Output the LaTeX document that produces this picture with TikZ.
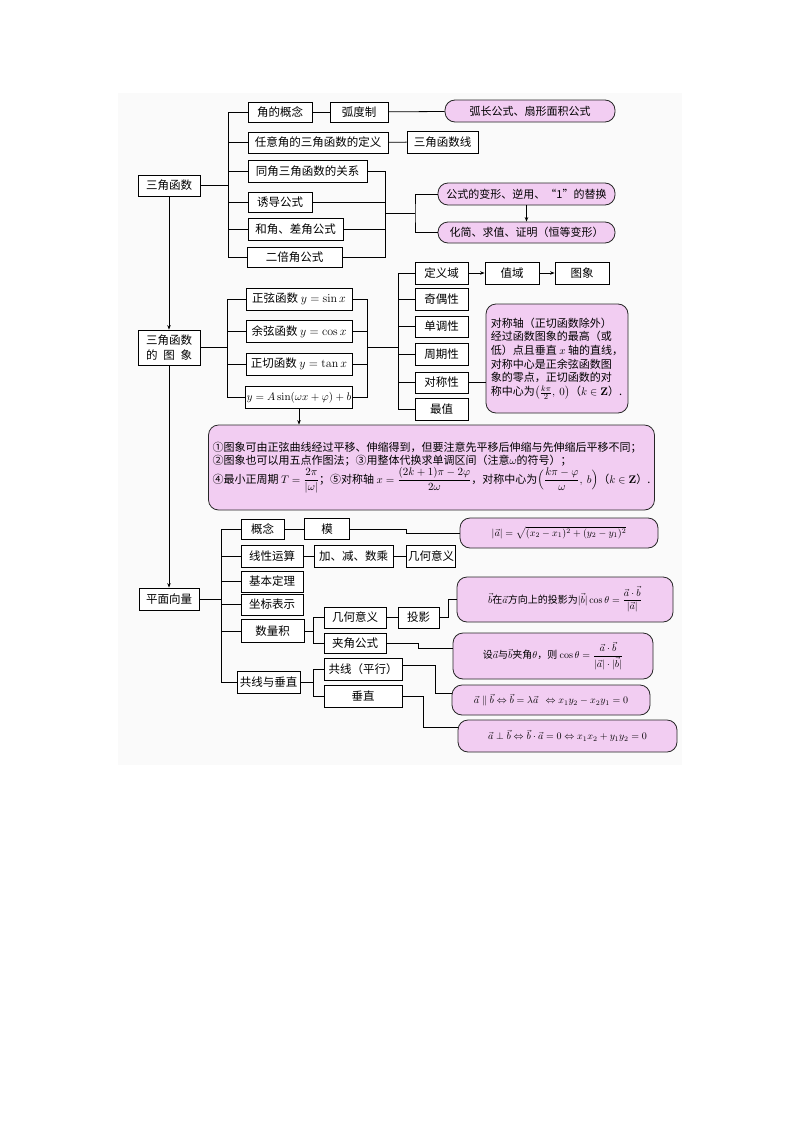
\documentclass[tikz,border=0pt]{standalone}
\usepackage{amsmath,amssymb}
\usepackage[no-math]{fontspec}
\setmainfont{Noto Sans CJK SC}
\usetikzlibrary{arrows.meta,calc}
\definecolor{pinkc}{HTML}{F2CDF2}
\begin{document}
\begin{tikzpicture}[x=1pt,y=-1pt,
  line width=0.8pt,
  >={Stealth[length=4.5pt,width=3.5pt]},
  sz/.style 2 args={minimum width=#1pt, minimum height=#2pt},
  box/.style={draw, fill=white, inner sep=1pt, font=\fontsize{11.5}{14}\selectfont},
  pbox/.style={draw=black!85, fill=pinkc, rounded corners=10pt, inner sep=2pt, font=\fontsize{11}{13.7}\selectfont},
  vbox/.style={pbox, font=\fontsize{10}{12.5}\selectfont}]
\useasboundingbox (0,0) rectangle (800,1132);
\fill[gray!4] (118,93) rectangle (682,765);

% ---------- section 1 ----------
\node[box,sz={62}{21}] (sjhs) at (169,185.5) {三角函数};
\node[box,sz={64}{20}] (jgn) at (280,112) {角的概念};
\node[box,sz={58}{20}] (hdz) at (359,112) {弧度制};
\node[pbox,sz={170}{22}] (hc) at (530,111) {弧长公式、扇形面积公式};
\node[box,sz={140}{21}] (ryj) at (318,142.5) {任意角的三角函数的定义};
\node[box,sz={71}{22}] (sjx) at (442.5,142) {三角函数线};
\node[box,sz={119}{22}] (tj) at (307.5,171) {同角三角函数的关系};
\node[box,sz={64}{20}] (yd) at (280,202) {诱导公式};
\node[box,sz={95}{22}] (hj) at (295.5,229) {和角、差角公式};
\node[box,sz={95}{20}] (ebj) at (294.5,257) {二倍角公式};
\node[pbox,sz={177}{22}] (bxt) at (526.5,194) {公式的变形、逆用、“1”的替换};
\node[pbox,sz={177}{21}] (hjq) at (526.5,232.5) {化简、求值、证明（恒等变形）};

\coordinate (bx1) at (228,185.5);
\draw (sjhs.east) -- (bx1);
\draw (bx1 |- jgn.west) -- (bx1 |- ebj.west);
\foreach \n in {jgn,ryj,tj,yd,hj,ebj} \draw (bx1 |- \n.west) -- (\n.west);
\draw (jgn) -- (hdz);
\draw (hdz) -- (hc);
\draw (ryj) -- (sjx);
\coordinate (bx2) at (385,213);
\coordinate (bx3) at (415,213);
\draw (tj.east) -- (bx2 |- tj.east) -- (bx2 |- ebj.east) -- (ebj.east);
\draw (yd.east) -- (bx2 |- yd.east);
\draw (hj.east) -- (bx2 |- hj.east);
\draw (bx2) -- (bx3);
\draw (bxt.west) -| (bx3) |- (hjq.west);
\draw[->] (bxt.south) -- (hjq.north);

% ---------- section 2 ----------
\node[box,sz={62}{35},align=center,font=\fontsize{11.5}{15}\selectfont] (tx) at (169,347.5) {三角函数\\的\hspace{0.5em}图\hspace{0.5em}象};
\node[box,sz={106}{22}] (sin) at (299,299) {正弦函数 $y=\sin x$};
\node[box,sz={106}{22}] (cos) at (299,331.5) {余弦函数 $y=\cos x$};
\node[box,sz={106}{22}] (tan) at (299,364) {正切函数 $y=\tan x$};
\node[box,sz={106}{22},font=\fontsize{10.5}{12}\selectfont] (asn) at (299,397.5) {$y=A\sin(\omega x+\varphi)+b$};
\node[box,sz={53}{22}] (dyy) at (441.5,273) {定义域};
\node[box,sz={54}{22}] (zy) at (512,273) {值域};
\node[box,sz={54}{22}] (txg) at (582,273) {图象};
\node[box,sz={53}{22}] (jo) at (441.5,299) {奇偶性};
\node[box,sz={53}{21}] (dd) at (441.5,326.5) {单调性};
\node[box,sz={53}{22}] (zq) at (441.5,354) {周期性};
\node[box,sz={53}{21}] (dc) at (441.5,382.5) {对称性};
\node[box,sz={53}{22}] (zz) at (441.5,409) {最值};
\node[pbox,sz={142}{109},align=left] (sym) at (557,358.5) {对称轴（正切函数除外）\\经过函数图象的最高（或\\低）点且垂直 $x$ 轴的直线，\\对称中心是正余弦函数图\\象的零点，正切函数的对\\称中心为$\bigl(\frac{k\pi}{2},\ 0\bigr)$（$k\in\mathbf{Z}$）.};
\node[pbox,sz={441}{85},align=left,inner sep=4pt] (big) at (431.5,467.5) {①图象可由正弦曲线经过平移、伸缩得到，但要注意先平移后伸缩与先伸缩后平移不同；\\②图象也可以用五点作图法；③用整体代换求单调区间（注意$\omega$的符号）；\\④最小正周期 $T=\dfrac{2\pi}{|\omega|}$；⑤对称轴 $x=\dfrac{(2k+1)\pi-2\varphi}{2\omega}$，对称中心为$\Bigl(\dfrac{k\pi-\varphi}{\omega},\ b\Bigr)$（$k\in\mathbf{Z}$）.};

\draw[->] (sjhs.south) -- (tx.north);
\coordinate (bx4) at (227,347.5);
\draw (tx.east) -- (bx4);
\draw (bx4 |- sin.west) -- (bx4 |- asn.west);
\foreach \n in {sin,cos,tan,asn} \draw (bx4 |- \n.west) -- (\n.west);
\coordinate (bx5) at (367,347.5);
\coordinate (bx6) at (398,347.5);
\draw (sin.east) -- (bx5 |- sin.east) -- (bx5 |- asn.east) -- (asn.east);
\draw (cos.east) -- (bx5 |- cos.east);
\draw (tan.east) -- (bx5 |- tan.east);
\draw (bx5) -- (bx6);
\draw (bx6 |- dyy.west) -- (bx6 |- zz.west);
\foreach \n in {dyy,jo,dd,zq,dc,zz} \draw (bx6 |- \n.west) -- (\n.west);
\draw[->] (dyy) -- (zy);
\draw[->] (zy) -- (txg);
\draw (dc.east) -- (dc.east -| sym.west);
\draw[->] (asn.south) -- (asn.south |- big.north);

% ---------- section 3 ----------
\node[box,sz={60}{22}] (pm) at (169,599) {平面向量};
\node[box,sz={43}{20}] (gn) at (262.5,529) {概念};
\node[box,sz={45}{21}] (mo) at (327,529) {模};
\node[box,sz={62}{22}] (xx) at (272,556) {线性运算};
\node[box,sz={79}{22}] (jj) at (353.5,556) {加、减、数乘};
\node[box,sz={49}{22}] (jh1) at (431,556) {几何意义};
\node[box,sz={62}{21}] (jb) at (272,581.5) {基本定理};
\node[box,sz={62}{21}] (zb) at (272,604.5) {坐标表示};
\node[box,sz={63}{23}] (sl) at (272.5,631) {数量积};
\node[box,sz={63}{22}] (gxc) at (268.5,682) {共线与垂直};
\node[box,sz={62}{21}] (jh2) at (355,617.5) {几何意义};
\node[box,sz={41}{21}] (ty) at (418.5,617.5) {投影};
\node[box,sz={62}{20}] (jjgs) at (355,643) {夹角公式};
\node[box,sz={78}{22}] (gx) at (363,669) {共线（平行）};
\node[box,sz={78}{22}] (cz) at (363,696) {垂直};
\node[vbox,sz={198}{30}] (v1) at (559,533) {$|\vec a|=\sqrt{(x_2-x_1)^2+(y_2-y_1)^2}$};
\node[vbox,sz={216}{45}] (v2) at (565,599.5) {$\vec b$在$\vec a$方向上的投影为$|\vec b|\cos\theta=\dfrac{\vec a\cdot\vec b}{|\vec a|}$};
\node[vbox,sz={200}{46}] (v3) at (553,656) {设$\vec a$与$\vec b$夹角$\theta$，则 $\cos\theta=\dfrac{\vec a\cdot\vec b}{|\vec a|\cdot|\vec b|}$};
\node[vbox,sz={198}{30}] (v4) at (551,700) {$\vec a\parallel\vec b\Leftrightarrow\vec b=\lambda\vec a\ \ \Leftrightarrow x_1y_2-x_2y_1=0$};
\node[vbox,sz={219}{32}] (v5) at (567.5,736) {$\vec a\perp\vec b\Leftrightarrow\vec b\cdot\vec a=0\Leftrightarrow x_1x_2+y_1y_2=0$};

\draw[->] (tx.south) -- (pm.north);
\coordinate (bx7) at (221,599);
\draw (pm.east) -- (bx7);
\draw (bx7 |- gn.west) -- (bx7 |- gxc.west);
\foreach \n in {gn,xx,jb,zb,sl,gxc} \draw (bx7 |- \n.west) -- (\n.west);
\draw (gn) -- (mo);
\draw (xx) -- (jj);
\draw (jj) -- (jh1);
\coordinate (bx8) at (313,631);
\draw (sl.east) -- (bx8);
\draw (bx8 |- jh2.west) -- (bx8 |- jjgs.west);
\draw (bx8 |- jh2.west) -- (jh2.west);
\draw (bx8 |- jjgs.west) -- (jjgs.west);
\draw (jh2) -- (ty);
\coordinate (bx9) at (313,682);
\draw (gxc.east) -- (bx9);
\draw (bx9 |- gx.west) -- (bx9 |- cz.west);
\draw (bx9 |- gx.west) -- (gx.west);
\draw (bx9 |- cz.west) -- (cz.west);
\draw (mo.east) -- ++(56,0) |- (v1.west);
\draw (ty.east) -- ++(9,0) |- (v2.west);
\draw (jjgs.east) -- ++(32,0) |- ($(v3.west)+(0,-8)$);
\draw ($(gx.east)+(0,-4)$) -- ++(33,0) |- ($(v4.west)+(0,-7)$);
\draw (cz.east) -- ++(21,0) |- ($(v5.west)+(0,-9)$);
\end{tikzpicture}
\end{document}
